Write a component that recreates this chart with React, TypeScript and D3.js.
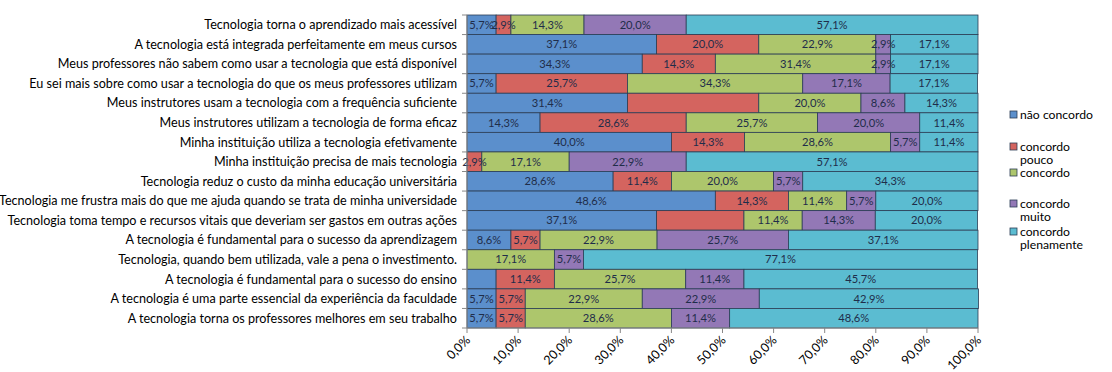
import React from "react";
import * as d3 from "d3";

const categories = [
  "Tecnologia torna o aprendizado mais acessível",
  "A tecnologia está integrada perfeitamente em meus cursos",
  "Meus professores não sabem como usar a tecnologia que está disponível",
  "Eu sei mais sobre como usar a tecnologia do que os meus professores utilizam",
  "Meus instrutores usam a tecnologia com a frequência suficiente",
  "Meus instrutores utilizam a tecnologia de forma eficaz",
  "Minha instituição utiliza a tecnologia efetivamente",
  "Minha instituição precisa de mais tecnologia",
  "Tecnologia reduz o custo da minha educação universitária",
  "Tecnologia me frustra mais do que me ajuda quando se trata de minha universidade",
  "Tecnologia toma tempo e recursos vitais que deveriam ser gastos em outras ações",
  "A tecnologia é fundamental para o sucesso da aprendizagem",
  "Tecnologia, quando bem utilizada, vale a pena o investimento.",
  "A tecnologia é fundamental para o sucesso do ensino",
  "A tecnologia é uma parte essencial da experiência da faculdade",
  "A tecnologia torna os professores melhores em seu trabalho",
];

const seriesNames = ["não concordo", "concordo pouco", "concordo", "concordo muito", "concordo plenamente"];
const legendLines = [["não concordo"], ["concordo", "pouco"], ["concordo"], ["concordo", "muito"], ["concordo", "plenamente"]];
const seriesColors = ["#5b8fcc", "#d4645f", "#adc66c", "#9378b6", "#5bbcd1"];

const naoConcordo = [5.7, 37.1, 34.3, 5.7, 31.4, 14.3, 40.0, 0, 28.6, 48.6, 37.1, 8.6, 0, 5.7, 5.7, 5.7];
const concordoPouco = [2.9, 20.0, 14.3, 25.7, 25.7, 28.6, 14.3, 2.9, 11.4, 14.3, 17.1, 5.7, 0, 11.4, 5.7, 5.7];
const concordo = [14.3, 22.9, 31.4, 34.3, 20.0, 25.7, 28.6, 17.1, 20.0, 11.4, 11.4, 22.9, 17.1, 25.7, 22.9, 28.6];
const concordoMuito = [20.0, 2.9, 2.9, 17.1, 8.6, 20.0, 5.7, 22.9, 5.7, 5.7, 14.3, 25.7, 5.7, 11.4, 22.9, 11.4];
const concordoPlenamente = [57.1, 17.1, 17.1, 17.1, 14.3, 11.4, 11.4, 57.1, 34.3, 20.0, 20.0, 37.1, 77.1, 45.7, 42.9, 48.6];
const seriesValues = [naoConcordo, concordoPouco, concordo, concordoMuito, concordoPlenamente];

// labels hidden in the reference (row index, series index)
const hiddenLabels = [[4, 1], [10, 1], [13, 0]];

const xTicks = [0, 10, 20, 30, 40, 50, 60, 70, 80, 90, 100];

const fmt = (v: number) => v.toFixed(1).replace(".", ",") + "%";

export default function App() {
  const W = 1112, H = 372;
  const x = d3.scaleLinear().domain([0, 100]).range([467, 978]);
  const y = d3.scaleBand<string>().domain(categories).range([15, 328]).padding(0);
  const font = "Lato, 'Open Sans', sans-serif";

  const stacks = categories.map((c, i) => {
    let acc = 0;
    return seriesValues.map((s, j) => {
      const x0 = acc;
      acc += s[i];
      return { x0, x1: acc, v: s[i], j, i };
    });
  });
  const isHidden = (i: number, j: number) => hiddenLabels.some(([a, b]) => a === i && b === j);

  return (
    <svg width={W} height={H} style={{ position: "absolute", left: 0, top: 0, background: "#fff" }} fontFamily={font}>
      {stacks.map((row, i) =>
        row.map((seg) =>
          seg.v > 0 ? (
            <rect
              key={`r${i}-${seg.j}`}
              x={x(seg.x0)}
              y={y(categories[i])!}
              width={x(seg.x1) - x(seg.x0)}
              height={y.bandwidth()}
              fill={seriesColors[seg.j]}
              stroke="#2b3d55"
              strokeWidth={0.8}
            />
          ) : null
        )
      )}
      {stacks.map((row, i) =>
        row.map((seg) =>
          seg.v > 0 && !isHidden(i, seg.j) ? (
            <text
              key={`t${i}-${seg.j}`}
              x={(x(seg.x0) + x(seg.x1)) / 2}
              y={y(categories[i])! + y.bandwidth() / 2}
              dy="0.35em"
              textAnchor="middle"
              fontSize={11.2}
              fill="#1f2d4a"
            >
              {fmt(seg.v)}
            </text>
          ) : null
        )
      )}
      {/* y axis */}
      <line x1={467} x2={467} y1={15} y2={328} stroke="#888" />
      {categories.map((c, i) => (
        <line key={`yt${i}`} x1={462} x2={467} y1={y(c)!} y2={y(c)!} stroke="#888" />
      ))}
      <line x1={462} x2={467} y1={328} y2={328} stroke="#888" />
      {categories.map((c) => (
        <text key={c} x={457} y={y(c)! + y.bandwidth() / 2} dy="0.35em" textAnchor="end" fontSize={12.6} fill="#000">
          {c}
        </text>
      ))}
      {/* x axis */}
      <line x1={467} x2={978} y1={328} y2={328} stroke="#888" />
      {xTicks.map((t) => (
        <g key={`xt${t}`}>
          <line x1={x(t)} x2={x(t)} y1={328} y2={333} stroke="#888" />
          <text
            transform={`translate(${x(t) + 4},${341}) rotate(-45)`}
            textAnchor="end"
            fontSize={12.5}
            fill="#000"
          >
            {fmt(t)}
          </text>
        </g>
      ))}
      {/* legend */}
      {legendLines.map((lines, j) => {
        const ys = [119, 151, 177, 208, 236];
        const ly = ys[j];
        return (
          <g key={`lg${j}`}>
            <rect x={1010} y={ly - 8} width={7} height={7} fill={seriesColors[j]} stroke="#2b3d55" strokeWidth={0.8} />
            {lines.map((ln, k) => (
              <text key={k} x={1020} y={ly + k * 13} fontSize={12.2} fill="#000">
                {ln}
              </text>
            ))}
          </g>
        );
      })}
    </svg>
  );
}
